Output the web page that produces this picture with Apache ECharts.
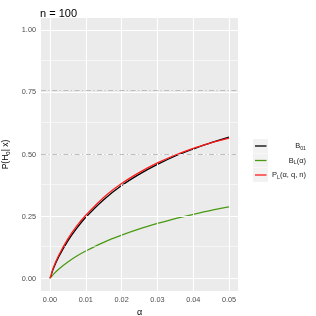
<!DOCTYPE html>
<html>
<head>
<meta charset="utf-8">
<script src="https://cdn.jsdelivr.net/npm/echarts@6/dist/echarts.min.js"></script>
<style>
html,body{margin:0;padding:0;background:#fff;}
#c{width:316px;height:316px;}
</style>
</head>
<body>
<div id="c"></div>
<script>
// ---- data ----
const alpha = [0, 0.001, 0.0025, 0.005, 0.0075, 0.01, 0.015, 0.02, 0.025, 0.03, 0.035, 0.04, 0.045, 0.05];
const b01   = [0, 0.042, 0.089, 0.152, 0.203, 0.247, 0.318, 0.375, 0.421, 0.460, 0.494, 0.522, 0.548, 0.570];
const bL    = [0, 0.018, 0.039, 0.067, 0.091, 0.111, 0.146, 0.175, 0.200, 0.222, 0.242, 0.259, 0.275, 0.289];
const pL    = [0, 0.046, 0.095, 0.160, 0.212, 0.255, 0.327, 0.383, 0.428, 0.466, 0.498, 0.525, 0.547, 0.566];
const xTicks = [0, 0.01, 0.02, 0.03, 0.04, 0.05];
const xMinor = [0.005, 0.015, 0.025, 0.035, 0.045];
const yTicks = [0, 0.25, 0.5, 0.75, 1];
const yMinor = [0.125, 0.375, 0.625, 0.875];
const refLines = [0.76, 0.5];
const seriesNames = ['B01', 'BL', 'PL'];
const legendLabels = ['{m|B}{s|01}', '{m|B}{s|L}{m|(α)}', '{m|P}{s|L}{m|(α, q, n)}'];
const colors = ['#000000', '#4A9A12', '#FF1A1A'];

const pairs = ys => alpha.map((a, i) => [a, ys[i]]);

const chart = echarts.init(document.getElementById('c'), null, {renderer: 'canvas'});

const gridLines = [];
xTicks.forEach(v => gridLines.push({xAxis: v, lineStyle: {width: 1.1, color: '#FFFFFF', type: 'solid'}}));
xMinor.forEach(v => gridLines.push({xAxis: v, lineStyle: {width: 0.55, color: '#FFFFFF', type: 'solid'}}));
yTicks.forEach(v => gridLines.push({yAxis: v, lineStyle: {width: 1.1, color: '#FFFFFF', type: 'solid'}}));
yMinor.forEach(v => gridLines.push({yAxis: v, lineStyle: {width: 0.55, color: '#FFFFFF', type: 'solid'}}));

const gL = 41, gT = 18, gR = 238, gB = 291;

const legendGraphics = [];
const rowY = [146, 160.5, 175];
seriesNames.forEach((n, i) => {
  legendGraphics.push({
    type: 'rect', shape: {x: 253, y: rowY[i] - 7, width: 15, height: 14},
    style: {fill: '#F2F2F2'}, silent: true
  });
  legendGraphics.push({
    type: 'line', shape: {x1: 255, y1: rowY[i], x2: 266.5, y2: rowY[i]},
    style: {stroke: colors[i], lineWidth: 1.3}, silent: true
  });
  legendGraphics.push({
    type: 'text', x: 306, y: rowY[i],
    style: {
      text: legendLabels[i], align: 'right', verticalAlign: 'middle',
      rich: {
        m: {fontSize: 7.5, fontFamily: 'Liberation Sans', fill: '#1A1A1A', color: '#1A1A1A'},
        s: {fontSize: 5.2, fontFamily: 'Liberation Sans', fill: '#1A1A1A', color: '#1A1A1A', padding: [5, 0, 0, 0]}
      }
    }, silent: true
  });
});

chart.setOption({
  animation: false,
  backgroundColor: '#FFFFFF',
  title: {
    text: 'n = 100', left: 35, top: 3,
    textStyle: {fontSize: 11, fontWeight: 'normal', color: '#000000', fontFamily: 'Liberation Sans'}
  },
  grid: {
    left: gL, top: gT, width: gR - gL, height: gB - gT,
    show: true, backgroundColor: '#EBEBEB', borderWidth: 0, containLabel: false,
    outerBoundsMode: 'none'
  },
  xAxis: {
    type: 'value', min: -0.0025, max: 0.0525,
    name: 'α', nameLocation: 'middle', nameGap: 15,
    nameTextStyle: {fontSize: 9, color: '#000000', fontFamily: 'Liberation Sans'},
    axisLine: {show: false},
    splitLine: {show: false},
    axisTick: {show: true, customValues: xTicks, length: 3, lineStyle: {color: '#333333', width: 1}},
    axisLabel: {customValues: xTicks, margin: 5, fontSize: 7.3, color: '#4D4D4D', fontFamily: 'Liberation Sans',
      formatter: v => v.toFixed(2)}
  },
  yAxis: {
    type: 'value', min: -0.05, max: 1.05,
    name: '{m|P(H}{s|0}{m|| x)}', nameLocation: 'middle', nameGap: 25, nameRotate: 90,
    nameTextStyle: {
      rich: {
        m: {fontSize: 8.5, color: '#000000', fontFamily: 'Liberation Sans'},
        s: {fontSize: 6, color: '#000000', fontFamily: 'Liberation Sans', padding: [4, 0, 0, 0]}
      }
    },
    axisLine: {show: false},
    splitLine: {show: false},
    axisTick: {show: true, customValues: yTicks, length: 3, lineStyle: {color: '#333333', width: 1}},
    axisLabel: {customValues: yTicks, margin: 5, fontSize: 7.3, color: '#4D4D4D', fontFamily: 'Liberation Sans',
      formatter: v => v.toFixed(2)}
  },
  series: [
    {
      type: 'line', name: 'grid', z: 1, silent: true,
      data: [[0, 0]], showSymbol: false, symbol: 'none',
      lineStyle: {opacity: 0},
      markLine: {silent: true, symbol: ['none', 'none'], label: {show: false}, animation: false,
        data: gridLines}
    },
    {
      type: 'line', name: 'ref', z: 2, silent: true,
      data: [[0, 0]], showSymbol: false, symbol: 'none',
      lineStyle: {opacity: 0},
      markLine: {silent: true, symbol: ['none', 'none'], label: {show: false}, animation: false,
        data: refLines.map(v => ({yAxis: v, lineStyle: {width: 1, color: '#BDBDBD', type: [5, 2.5, 1.2, 2.5]}}))}
    },
    {type: 'line', name: seriesNames[1], z: 3, data: pairs(bL), smooth: 0.3, showSymbol: false, symbol: 'none',
      lineStyle: {color: colors[1], width: 1.3}},
    {type: 'line', name: seriesNames[0], z: 4, data: pairs(b01), smooth: 0.3, showSymbol: false, symbol: 'none',
      lineStyle: {color: colors[0], width: 1.3}},
    {type: 'line', name: seriesNames[2], z: 5, data: pairs(pL), smooth: 0.3, showSymbol: false, symbol: 'none',
      lineStyle: {color: colors[2], width: 1.3}}
  ],
  graphic: legendGraphics
});
</script>
</body>
</html>
